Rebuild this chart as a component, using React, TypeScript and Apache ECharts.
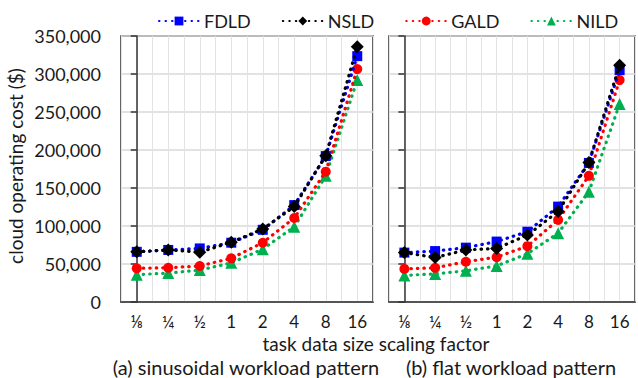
import React, { useEffect, useRef } from "react";
import * as echarts from "echarts";

const categories = ["⅛", "¼", "½", "1", "2", "4", "8", "16"];
const yTicks = [0, 50000, 100000, 150000, 200000, 250000, 300000, 350000];

const seriesNames = ["FDLD", "NSLD", "GALD", "NILD"];
const seriesColors = ["#0000ff", "#000000", "#ff0000", "#00b050"];
const seriesSymbols = ["rect", "diamond", "circle", "triangle"];
const seriesSymbolSizes = [10, 13, 10, 12];

const sinFDLD = [66000, 68500, 70500, 78000, 95000, 127500, 192000, 323500];
const sinNSLD = [66000, 68500, 65500, 78500, 96000, 125500, 192500, 336000];
const sinGALD = [44300, 45100, 47400, 57500, 78000, 110500, 171500, 306500];
const sinNILD = [36000, 38000, 42000, 51500, 69500, 99000, 166000, 292000];

const flatFDLD = [65000, 67000, 71500, 79500, 92500, 125500, 183000, 305000];
const flatNSLD = [65000, 58500, 68500, 70500, 88000, 119000, 183500, 311500];
const flatGALD = [43500, 45000, 53000, 59000, 73500, 108000, 166000, 292000];
const flatNILD = [35000, 37000, 41000, 47500, 63500, 90500, 145000, 260500];

const yTitle = "cloud operating cost ($)";
const xTitle = "task data size scaling factor";
const subA = "(a) sinusoidal workload pattern";
const subB = "(b) flat workload pattern";

const FONT = "Lato";
const TXT = "#1a1a1a";

export default function App() {
  const ref = useRef<HTMLDivElement>(null);
  useEffect(() => {
    if (!ref.current) return;
    const chart = echarts.init(ref.current, null, { renderer: "svg" });
    const panels = [
      [sinFDLD, sinNSLD, sinGALD, sinNILD],
      [flatFDLD, flatNSLD, flatGALD, flatNILD],
    ];
    const drawOrder = [3, 2, 0, 1];
    const series: any[] = [];
    panels.forEach((data, p) => {
      drawOrder.forEach((k) => {
        series.push({
          name: seriesNames[k],
          type: "line",
          xAxisIndex: p,
          yAxisIndex: p,
          data: data[k].map((v, i) => [i, v]),
          symbol: seriesSymbols[k],
          symbolSize: seriesSymbolSizes[k],
          showSymbol: true,
          itemStyle: { color: seriesColors[k] },
          lineStyle: { color: seriesColors[k], width: 3.2, type: [0.5, 6], cap: "round" },
          z: 3 + drawOrder.indexOf(k),
        });
      });
    });
    const xAxisBase = (gi: number) => ({
      type: "value",
      gridIndex: gi,
      min: -0.5,
      max: 7.5,
      interval: 0.5,
      axisLine: { show: true, lineStyle: { color: "#333", width: 1.5 } },
      axisTick: { show: false },
      splitLine: { show: true, lineStyle: { color: "#e3e3e3", width: 1 } },
      axisLabel: {
        color: TXT,
        fontFamily: FONT,
        fontSize: 17,
        margin: 11,
        showMinLabel: true,
        showMaxLabel: true,
        formatter: (v: number) => (Number.isInteger(v) && v >= 0 && v < categories.length ? categories[v] : ""),
      },
    });
    const yAxisBase = (gi: number, showLabels: boolean) => ({
      type: "value",
      gridIndex: gi,
      min: yTicks[0],
      max: yTicks[yTicks.length - 1],
      interval: yTicks[1] - yTicks[0],
      axisLine: { show: true, lineStyle: { color: "#333", width: 1.5 } },
      axisTick: { show: true, inside: false, length: 6, lineStyle: { color: "#333", width: 1.5 } },
      splitLine: { show: true, lineStyle: { color: "#d9d9d9", width: 1.5 } },
      axisLabel: {
        show: showLabels,
        color: TXT,
        fontFamily: FONT,
        fontSize: 18,
        margin: 20,
        formatter: (v: number) => v.toLocaleString("en-US"),
      },
    });
    chart.setOption({
      animation: false,
      backgroundColor: "#fff",
      legend: {
        data: seriesNames,
        left: 153,
        top: 7,
        width: 900,
        itemWidth: 40,
        itemHeight: 11,
        itemGap: 31,
        textStyle: { color: TXT, fontFamily: FONT, fontSize: 18 },
      },
      grid: [
        { left: 121, top: 36, width: 252, height: 266, show: true, borderColor: "#333", borderWidth: 1.5 },
        { left: 389, top: 36, width: 252, height: 266, show: true, borderColor: "#333", borderWidth: 1.5 },
      ],
      xAxis: [xAxisBase(0), xAxisBase(1)],
      yAxis: [yAxisBase(0, true), yAxisBase(1, false)],
      series,
      graphic: [
        {
          type: "text",
          x: 15,
          y: 166,
          rotation: Math.PI / 2,
          style: { text: yTitle, fill: TXT, font: `19px ${FONT}`, align: "center", verticalAlign: "middle" },
        },
        {
          type: "text",
          x: 376,
          y: 343,
          style: { text: xTitle, fill: TXT, font: `19px ${FONT}`, align: "center", verticalAlign: "middle" },
        },
        {
          type: "text",
          x: 246,
          y: 367,
          style: { text: subA, fill: TXT, font: `20px ${FONT}`, align: "center", verticalAlign: "middle" },
        },
        {
          type: "text",
          x: 511,
          y: 367,
          style: { text: subB, fill: TXT, font: `20px ${FONT}`, align: "center", verticalAlign: "middle" },
        },
      ],
    });
    return () => chart.dispose();
  }, []);
  return <div ref={ref} style={{ position: "fixed", left: 0, top: 0, width: 638, height: 378 }} />;
}
